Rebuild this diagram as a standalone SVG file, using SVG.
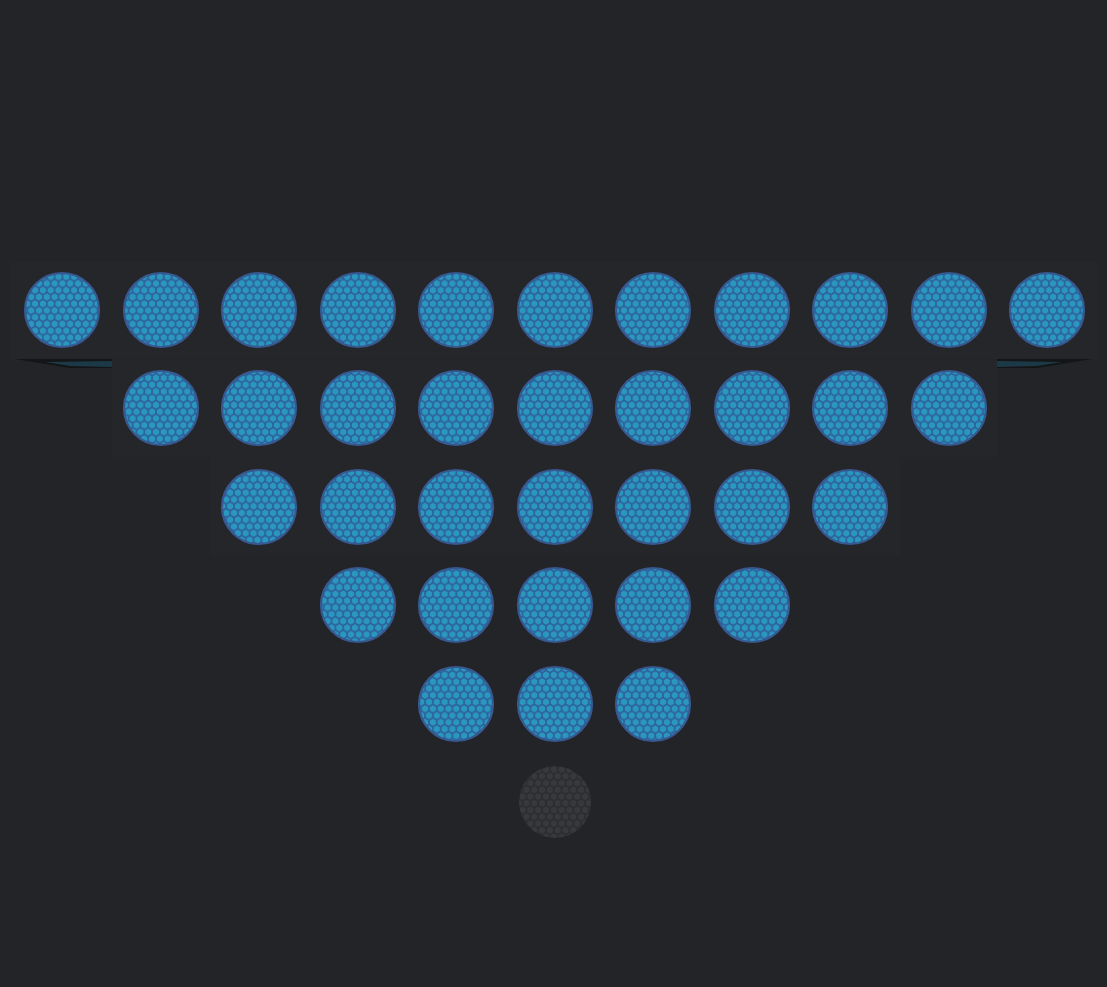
<svg xmlns="http://www.w3.org/2000/svg" width="1107" height="987" viewBox="0 0 1107 987">
<style>
.n{fill:url(#hex);stroke:#375890;stroke-width:2.2}
.g{fill:url(#hexg)}
.panel{fill:#252629}
</style>
<defs>
<pattern id="hex" patternUnits="userSpaceOnUse" width="7.8" height="13.5">
<rect width="7.8" height="13.5" fill="#2e5f9b"/>
<g fill="#2a98be">
<polygon id="h" points="0,-3.55 3.07,-1.78 3.07,1.78 0,3.55 -3.07,1.78 -3.07,-1.78"/>
<use href="#h" x="7.8"/>
<use href="#h" x="3.9" y="6.75"/>
<use href="#h" y="13.5"/>
<use href="#h" x="7.8" y="13.5"/>
</g>
</pattern>
<pattern id="hexg" patternUnits="userSpaceOnUse" width="7.8" height="13.5">
<rect width="7.8" height="13.5" fill="#2b2c2f"/>
<g fill="#38393c">
<use href="#h"/>
<use href="#h" x="7.8"/>
<use href="#h" x="3.9" y="6.75"/>
<use href="#h" y="13.5"/>
<use href="#h" x="7.8" y="13.5"/>
</g>
</pattern>
</defs>
<rect width="1107" height="987" fill="#232427"/>
<g id="panels">
<rect class="panel" x="10" y="262" width="1087" height="97"/>
<rect class="panel" x="112" y="360" width="885" height="97"/>
<rect class="panel" x="210" y="458" width="690" height="97"/>
</g>
<g id="shadows">
<polygon points="15,359 112,359 112,368 70,368" fill="#141517"/>
<polygon points="45,362 112,361 112,367 70,366" fill="#1c3947"/>
<polygon points="1092,359 997,359 997,368 1037,368" fill="#141517"/>
<polygon points="1062,362 997,361 997,367 1037,366" fill="#1c3947"/>
</g>
<g id="connectors"></g>
<g id="row1">
<g id="n1"><circle class="n" cx="62" cy="310" r="37"/></g>
<g id="n2"><circle class="n" cx="161" cy="310" r="37"/></g>
<g id="n3"><circle class="n" cx="259" cy="310" r="37"/></g>
<g id="n4"><circle class="n" cx="358" cy="310" r="37"/></g>
<g id="n5"><circle class="n" cx="456" cy="310" r="37"/></g>
<g id="n6"><circle class="n" cx="555" cy="310" r="37"/></g>
<g id="n7"><circle class="n" cx="653" cy="310" r="37"/></g>
<g id="n8"><circle class="n" cx="752" cy="310" r="37"/></g>
<g id="n9"><circle class="n" cx="850" cy="310" r="37"/></g>
<g id="n10"><circle class="n" cx="949" cy="310" r="37"/></g>
<g id="n11"><circle class="n" cx="1047" cy="310" r="37"/></g>
</g>
<g id="row2">
<g id="n12"><circle class="n" cx="161" cy="408" r="37"/></g>
<g id="n13"><circle class="n" cx="259" cy="408" r="37"/></g>
<g id="n14"><circle class="n" cx="358" cy="408" r="37"/></g>
<g id="n15"><circle class="n" cx="456" cy="408" r="37"/></g>
<g id="n16"><circle class="n" cx="555" cy="408" r="37"/></g>
<g id="n17"><circle class="n" cx="653" cy="408" r="37"/></g>
<g id="n18"><circle class="n" cx="752" cy="408" r="37"/></g>
<g id="n19"><circle class="n" cx="850" cy="408" r="37"/></g>
<g id="n20"><circle class="n" cx="949" cy="408" r="37"/></g>
</g>
<g id="row3">
<g id="n21"><circle class="n" cx="259" cy="507" r="37"/></g>
<g id="n22"><circle class="n" cx="358" cy="507" r="37"/></g>
<g id="n23"><circle class="n" cx="456" cy="507" r="37"/></g>
<g id="n24"><circle class="n" cx="555" cy="507" r="37"/></g>
<g id="n25"><circle class="n" cx="653" cy="507" r="37"/></g>
<g id="n26"><circle class="n" cx="752" cy="507" r="37"/></g>
<g id="n27"><circle class="n" cx="850" cy="507" r="37"/></g>
</g>
<g id="row4">
<g id="n28"><circle class="n" cx="358" cy="605" r="37"/></g>
<g id="n29"><circle class="n" cx="456" cy="605" r="37"/></g>
<g id="n30"><circle class="n" cx="555" cy="605" r="37"/></g>
<g id="n31"><circle class="n" cx="653" cy="605" r="37"/></g>
<g id="n32"><circle class="n" cx="752" cy="605" r="37"/></g>
</g>
<g id="row5">
<g id="n33"><circle class="n" cx="456" cy="704" r="37"/></g>
<g id="n34"><circle class="n" cx="555" cy="704" r="37"/></g>
<g id="n35"><circle class="n" cx="653" cy="704" r="37"/></g>
</g>
<g id="row6">
<g id="n36"><circle class="g" cx="555" cy="802" r="36"/></g>
</g>
</svg>
